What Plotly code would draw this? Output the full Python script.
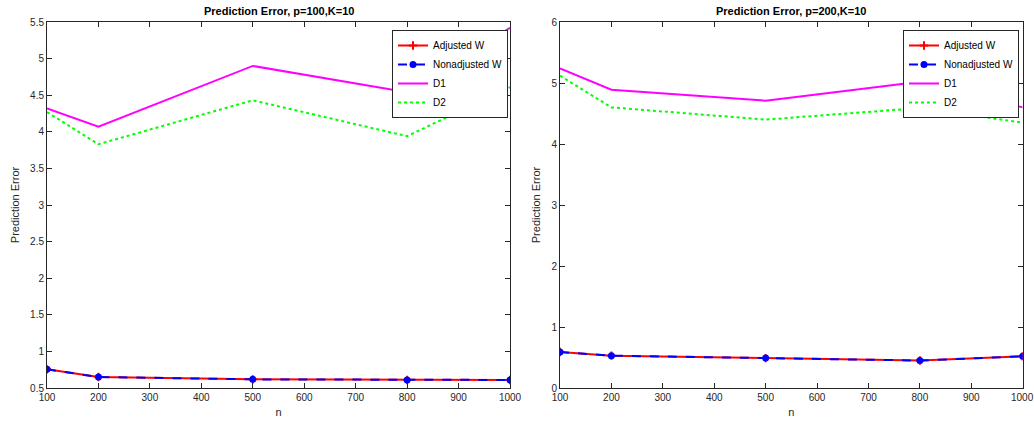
import plotly.graph_objects as go

n = [100, 200, 500, 800, 1000]
xticks = list(range(100, 1001, 100))

# p=100, K=10
adj_p100 = [0.755, 0.65, 0.618, 0.609, 0.61]
nonadj_p100 = [0.755, 0.65, 0.618, 0.609, 0.61]
d1_p100 = [4.32, 4.07, 4.90, 4.54, 5.42]
d2_p100 = [4.27, 3.83, 4.43, 3.94, 4.61]

# p=200, K=10
adj_p200 = [0.59, 0.53, 0.49, 0.45, 0.52]
nonadj_p200 = [0.59, 0.53, 0.49, 0.45, 0.52]
d1_p200 = [5.24, 4.89, 4.71, 5.02, 4.60]
d2_p200 = [5.12, 4.60, 4.40, 4.59, 4.35]

titles = ["Prediction Error, p=100,K=10", "Prediction Error, p=200,K=10"]
FONT = "Liberation Sans, Arial, Helvetica, sans-serif"
AX = "#262626"

fig = go.Figure()

sets = [
    (adj_p100, nonadj_p100, d1_p100, d2_p100, "x", "y", "legend"),
    (adj_p200, nonadj_p200, d1_p200, d2_p200, "x2", "y2", "legend2"),
]
for adj, non, d1, d2, xa, ya, lg in sets:
    fig.add_trace(go.Scatter(x=n, y=adj, name="Adjusted W", mode="lines+markers",
                             line=dict(color="#ff0000", width=2),
                             marker=dict(symbol="cross-thin", size=6, color="#ff0000",
                                         line=dict(color="#ff0000", width=2)),
                             xaxis=xa, yaxis=ya, legend=lg))
    fig.add_trace(go.Scatter(x=n, y=non, name="Nonadjusted W", mode="lines+markers",
                             line=dict(color="#0000ff", width=2, dash="dash"),
                             marker=dict(symbol="circle", size=7, color="#0000ff"),
                             xaxis=xa, yaxis=ya, legend=lg))
    fig.add_trace(go.Scatter(x=n, y=d1, name="D1", mode="lines",
                             line=dict(color="#ff00ff", width=2),
                             xaxis=xa, yaxis=ya, legend=lg))
    fig.add_trace(go.Scatter(x=n, y=d2, name="D2", mode="lines",
                             line=dict(color="#00ff00", width=2, dash="dot"),
                             xaxis=xa, yaxis=ya, legend=lg))

ydom = [1 - 388 / 423, 1 - 22 / 423]
xdom1 = [47 / 1034, 510 / 1034]
xdom2 = [560 / 1034, 1022.7 / 1034]

common = dict(showline=True, linecolor=AX, linewidth=1, mirror="ticks",
              ticks="inside", ticklen=5, tickcolor=AX, showgrid=False, zeroline=False,
              automargin=False,
              tickfont=dict(family=FONT, size=10, color=AX))

fig.update_layout(
    width=1034, height=423,
    margin=dict(l=0, r=0, t=0, b=0, autoexpand=False),
    paper_bgcolor="white", plot_bgcolor="white",
    font=dict(family=FONT, size=10, color=AX),
    xaxis=dict(domain=xdom1, range=[100, 1000], tickvals=xticks,
               anchor="y", title=dict(text="n", standoff=6, font=dict(size=11)), **common),
    yaxis=dict(domain=ydom, range=[0.5, 5.5], tickvals=[0.5 + 0.5 * i for i in range(11)],
               anchor="x", title=dict(text="Prediction Error", standoff=8, font=dict(size=11)), **common),
    xaxis2=dict(domain=xdom2, range=[100, 1000], tickvals=xticks,
                ticktext=[str(v) if v < 1000 else "" for v in xticks],
                anchor="y2", title=dict(text="n", standoff=6, font=dict(size=11)), **common),
    yaxis2=dict(domain=ydom, range=[0, 6], tickvals=list(range(0, 7)),
                anchor="x2", title=dict(text="Prediction Error", standoff=8, font=dict(size=11)), **common),
    legend=dict(x=508 / 1034, y=1 - 30 / 423, xanchor="right", yanchor="top",
                bgcolor="white", bordercolor=AX, borderwidth=1,
                font=dict(family=FONT, size=10, color="black"), tracegroupgap=0),
    legend2=dict(x=1019 / 1034, y=1 - 30 / 423, xanchor="right", yanchor="top",
                 bgcolor="white", bordercolor=AX, borderwidth=1,
                 font=dict(family=FONT, size=10, color="black"), tracegroupgap=0),
    annotations=[
        dict(text="<b>" + titles[0] + "</b>", x=(xdom1[0] + xdom1[1]) / 2, y=1 - 11 / 423,
             xanchor="center", yanchor="middle",
             xref="paper", yref="paper", showarrow=False, font=dict(family=FONT, size=11, color="black")),
        dict(text="<b>" + titles[1] + "</b>", x=(xdom2[0] + xdom2[1]) / 2, y=1 - 11 / 423,
             xanchor="center", yanchor="middle",
             xref="paper", yref="paper", showarrow=False, font=dict(family=FONT, size=11, color="black")),
        dict(text=str(xticks[-1]), x=xticks[-1], xref="x2", y=ydom[0], yref="paper",
             xanchor="center", yanchor="top", yshift=-2, showarrow=False,
             font=dict(family=FONT, size=10, color=AX)),
    ],
)

fig.write_html("out.html")
